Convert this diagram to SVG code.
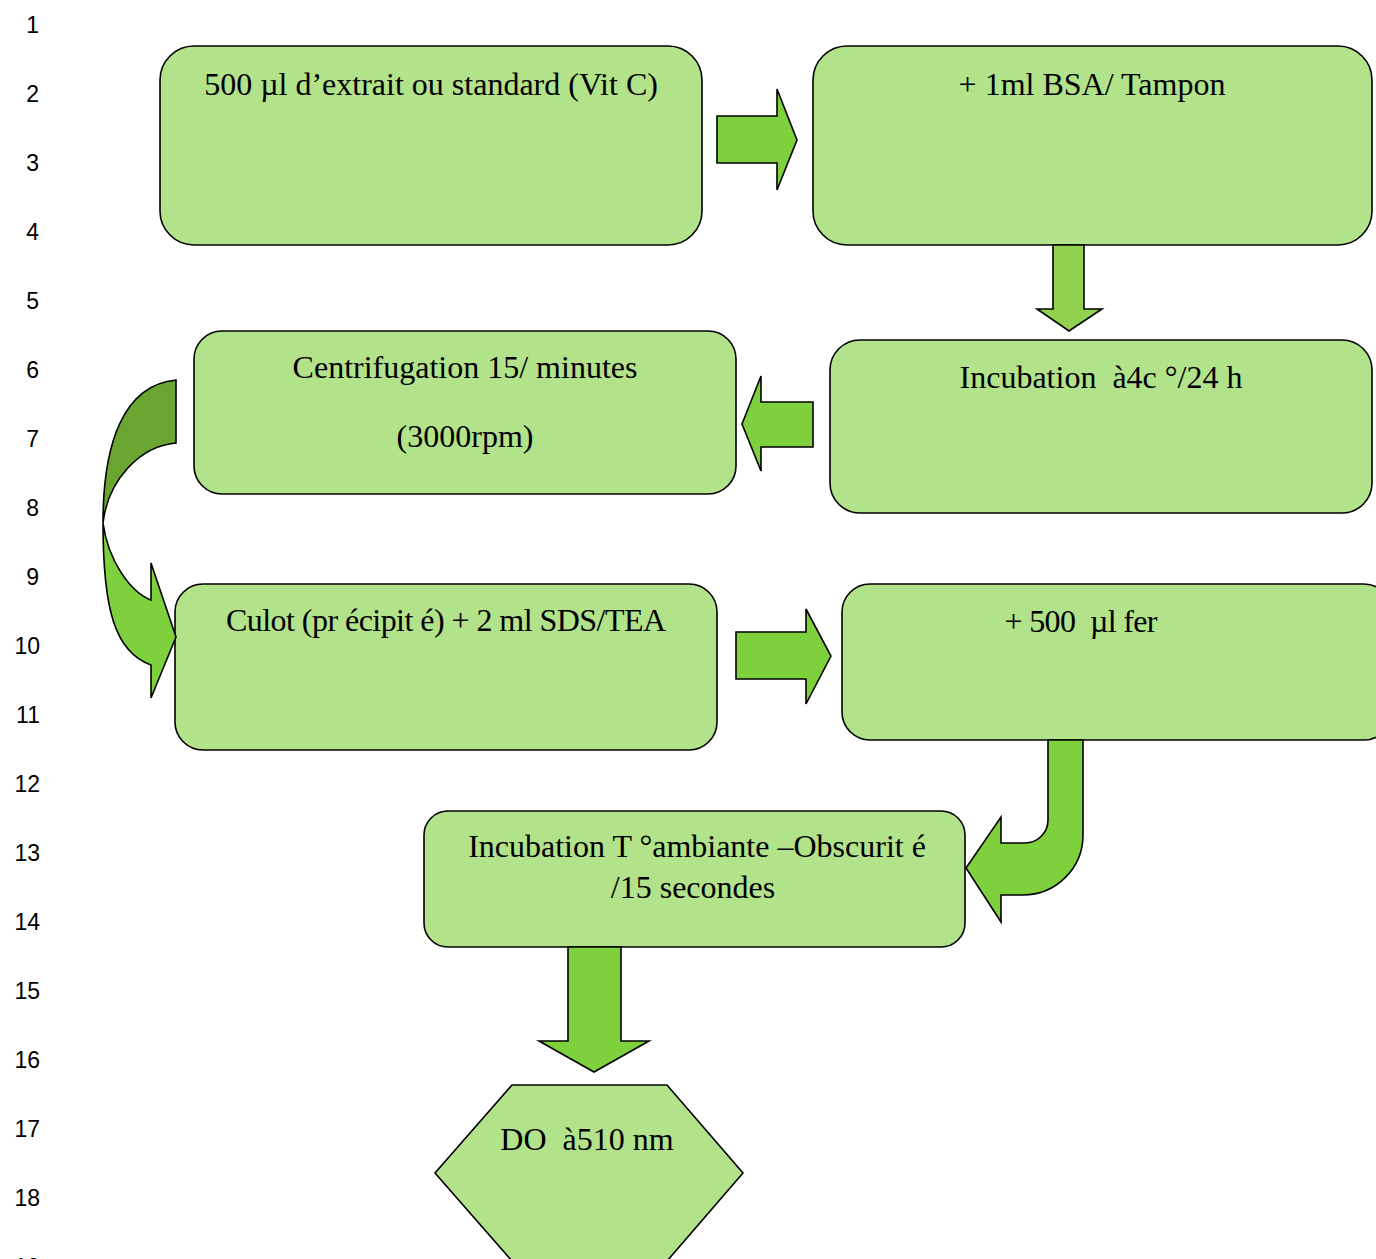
<svg xmlns="http://www.w3.org/2000/svg" width="1376" height="1259" viewBox="0 0 1376 1259">
  <style>
    .box { fill: #B2E28A; stroke: #000; stroke-width: 1.6; }
    .arrow { fill: #7ED03C; stroke: #000; stroke-width: 1.6; stroke-linejoin: miter; }
    .arrow-light { fill: #92D050; stroke: #000; stroke-width: 1.6; }
    .arrow-dark { fill: #6AA532; stroke: #000; stroke-width: 1.6; }
    .label { font-family: "Liberation Serif", "Times New Roman", serif; font-size: 32px; fill: #000; text-anchor: middle; white-space: pre; }
    .ln { font-family: "Liberation Sans", Arial, sans-serif; font-size: 23px; fill: #000; text-anchor: end; }
  </style>
  <rect width="1376" height="1259" fill="#fff"/>

  <!-- line numbers in the margin -->
  <g id="line-numbers">
    <text class="ln" x="39" y="33">1</text>
    <text class="ln" x="39" y="102">2</text>
    <text class="ln" x="39" y="171">3</text>
    <text class="ln" x="39" y="240">4</text>
    <text class="ln" x="39" y="309">5</text>
    <text class="ln" x="39" y="378">6</text>
    <text class="ln" x="39" y="447">7</text>
    <text class="ln" x="39" y="516">8</text>
    <text class="ln" x="39" y="585">9</text>
    <text class="ln" x="40" y="654">10</text>
    <text class="ln" x="40" y="723">11</text>
    <text class="ln" x="40" y="792">12</text>
    <text class="ln" x="40" y="861">13</text>
    <text class="ln" x="40" y="930">14</text>
    <text class="ln" x="40" y="999">15</text>
    <text class="ln" x="40" y="1068">16</text>
    <text class="ln" x="40" y="1137">17</text>
    <text class="ln" x="40" y="1206">18</text>
    <text class="ln" x="40" y="1275">19</text>
  </g>

  <!-- process steps -->
  <g id="step-extrait">
    <rect class="box" x="160" y="46" width="542" height="199" rx="34"/>
    <text class="label" x="431" y="95" xml:space="preserve">500 µl d’extrait ou standard (Vit C)</text>
  </g>
  <g id="step-bsa">
    <rect class="box" x="813" y="46" width="559" height="199" rx="34"/>
    <text class="label" x="1092" y="95" xml:space="preserve">+ 1ml BSA/ Tampon</text>
  </g>
  <g id="step-incubation-4c">
    <rect class="box" x="830" y="340" width="542" height="173" rx="30"/>
    <text class="label" x="1101" y="388" xml:space="preserve">Incubation  à4c °/24 h</text>
  </g>
  <g id="step-centrifugation">
    <rect class="box" x="194" y="331" width="542" height="163" rx="28"/>
    <text class="label" x="465" y="378" xml:space="preserve">Centrifugation 15/ minutes</text>
    <text class="label" x="465" y="447" xml:space="preserve">(3000rpm)</text>
  </g>
  <g id="step-culot">
    <rect class="box" x="175" y="584" width="542" height="166" rx="28"/>
    <text class="label" x="446" y="631" textLength="440" lengthAdjust="spacing" xml:space="preserve">Culot (pr écipit é) + 2 ml SDS/TEA</text>
  </g>
  <g id="step-fer">
    <rect class="box" x="842" y="584" width="550" height="156" rx="28"/>
    <text class="label" x="1081" y="632" textLength="153" lengthAdjust="spacing" xml:space="preserve">+ 500  µl fer</text>
  </g>
  <g id="step-incubation-ambiante">
    <rect class="box" x="424" y="811" width="541" height="136" rx="24"/>
    <text class="label" x="697" y="857" xml:space="preserve">Incubation T °ambiante –Obscurit é</text>
    <text class="label" x="693" y="898" xml:space="preserve">/15 secondes</text>
  </g>
  <g id="step-do">
    <polygon class="box" points="512,1085 667,1085 743,1173 667,1261 512,1261 435,1173"/>
    <text class="label" x="587" y="1150" xml:space="preserve">DO  à510 nm</text>
  </g>

  <!-- block arrows between steps -->
  <g id="connectors">
    <polygon class="arrow" points="717,116 777,116 777,89 797,140 777,190 777,163 717,163"/>
    <polygon class="arrow-light" points="1053,245 1084,245 1084,309 1102,309 1069,331 1037,309 1053,309"/>
    <polygon class="arrow" points="813,402 761,402 761,376 742,424 761,471 761,447 813,447"/>
    <path class="arrow-dark" d="M176,380 C125,385 103,440 103,523 C108,480 140,446 176,443 Z"/>
    <path class="arrow" d="M103,523 C103,610 115,652 151,665 L151,698 L176,637 L151,563 L151,600 C130,592 108,560 103,523 Z"/>
    <polygon class="arrow" points="736,632 806,632 806,609 831,656 806,704 806,679 736,679"/>
    <path class="arrow" d="M1048,740 L1048,820 A23,23 0 0 1 1025,843 L1001,843 L1001,817 L966,868 L1001,922 L1001,895 L1023,895 A60,60 0 0 0 1083,835 L1083,740 Z"/>
    <polygon class="arrow" points="568,947 621,947 621,1041 649,1041 594,1072 539,1041 568,1041"/>
  </g>
</svg>
